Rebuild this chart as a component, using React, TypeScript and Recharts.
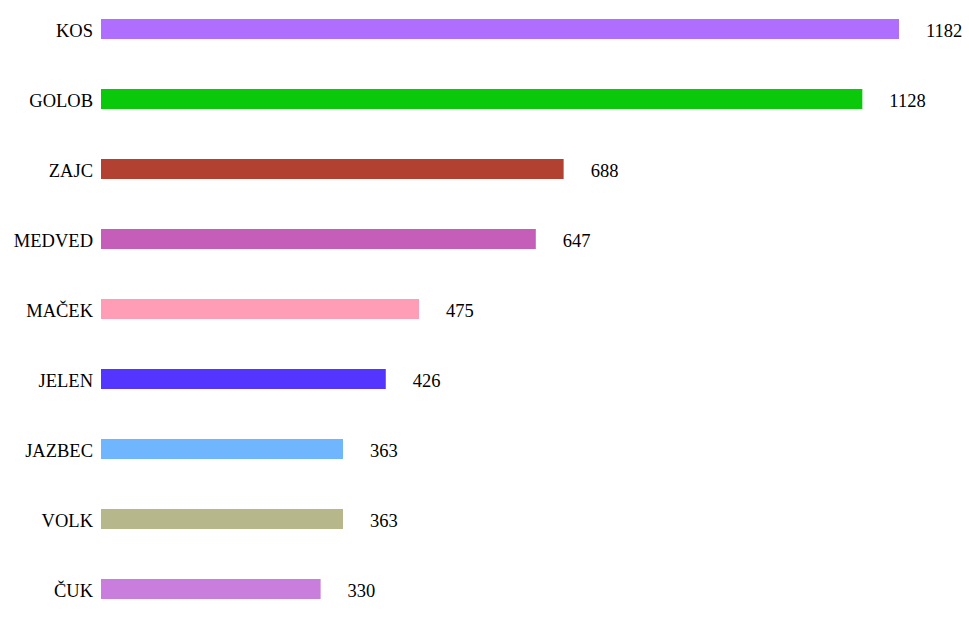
import { BarChart, Bar, XAxis, YAxis, Cell, LabelList } from "recharts";

const animals = ["KOS", "GOLOB", "ZAJC", "MEDVED", "MAČEK", "JELEN", "JAZBEC", "VOLK", "ČUK"];
const counts = [1182, 1128, 688, 647, 475, 426, 363, 363, 330];
const colors = ["#b06eff", "#0ac80a", "#b24132", "#c45eb9", "#ff9db6", "#5335ff", "#70b6ff", "#b7b78c", "#c97ddd"];

const data = animals.map((name, i) => ({ name, value: counts[i], color: colors[i] }));

const serif = "'Liberation Serif', 'Times New Roman', serif";

export default function App() {
  return (
    <div style={{ position: "absolute", top: 0, left: 0, fontFamily: serif }}>
      <BarChart
        width={969}
        height={622}
        data={data}
        layout="vertical"
        margin={{ top: -6, right: 70, bottom: -2, left: 0 }}
        barSize={20}
      >
        <XAxis type="number" hide domain={[6.5, 1182]} allowDataOverflow />
        <YAxis
          type="category"
          dataKey="name"
          width={101}
          axisLine={false}
          tickLine={false}
          tickSize={0}
          tickMargin={8}
          tick={{ fill: "#000", fontSize: 18.5, fontFamily: serif, dy: 1 }}
        />
        <Bar dataKey="value" isAnimationActive={false}>
          {data.map((d) => (
            <Cell key={d.name} fill={d.color} />
          ))}
          <LabelList
            dataKey="value"
            position="right"
            offset={27}
            fill="#000"
            fontSize={18.5}
            fontFamily={serif}
            dy={1}
          />
        </Bar>
      </BarChart>
    </div>
  );
}
